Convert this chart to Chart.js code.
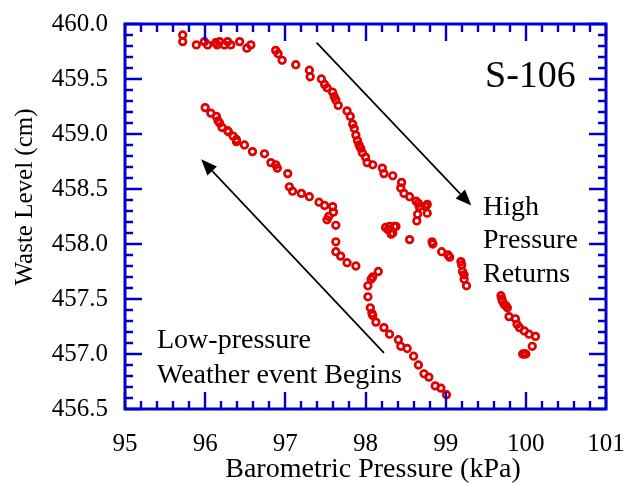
<!DOCTYPE html>
<html>
<head>
<meta charset="utf-8">
<script src="https://cdn.jsdelivr.net/npm/chart.js@4.4.1/dist/chart.umd.min.js"></script>
<style>
html,body{margin:0;padding:0;background:#ffffff;}
#wrap{position:relative;width:624px;height:485px;}
</style>
</head>
<body>
<div id="wrap"><canvas id="c" width="624" height="485"></canvas></div>
<script>
// ---------- DATA ----------
const pressureKPa = [
  95.72,95.72,95.89,95.99,96.03,96.13,96.15,96.18,96.24,96.28,96.32,96.43,96.52,96.57,
  96.88,96.91,96.96,97.13,97.30,97.31,97.45,97.49,97.52,97.59,97.61,97.63,97.66,97.77,97.81,97.84,
  97.86,97.88,97.90,97.92,97.94,97.96,98.00,98.02,98.09,98.21,98.23,98.34,98.45,98.44,98.48,98.55,
  98.63,98.66,98.67,98.75,98.77,98.77,98.65,98.64,
  98.25,98.30,98.36,98.38,98.34,98.32,98.28,
  98.55,98.84,98.83,98.95,99.03,99.05,99.19,99.20,99.21,99.23,99.23,99.26,
  99.69,99.70,99.71,99.73,99.75,99.77,99.79,99.87,99.89,99.92,99.98,100.04,100.12,100.08,99.96,99.98,100.00,
  96.00,96.07,96.14,96.16,96.18,96.21,96.28,96.29,96.35,96.39,96.39,96.49,96.59,96.74,96.82,96.88,
  96.90,97.03,97.05,97.09,97.20,97.30,97.42,97.49,97.59,97.60,97.54,97.52,97.63,97.63,97.63,97.69,
  97.77,97.88,
  98.16,98.09,98.07,98.03,98.03,98.06,98.08,98.09,98.13,98.23,98.30,98.41,98.44,98.52,98.60,98.66,
  98.73,98.79,98.87,98.94,99.01
];
const wasteLevelCm = [
  459.90,459.84,459.81,459.84,459.81,459.83,459.81,459.84,459.81,459.84,459.81,459.84,459.78,459.81,
  459.76,459.73,459.67,459.63,459.58,459.52,459.50,459.45,459.42,459.38,459.34,459.31,459.26,459.21,459.16,459.09,
  459.05,458.99,458.94,458.90,458.87,458.83,458.79,458.74,458.72,458.69,458.64,458.62,458.56,458.51,458.46,458.43,
  458.39,458.37,458.34,458.34,458.36,458.28,458.27,458.21,
  458.15,458.16,458.16,458.16,458.10,458.09,458.13,
  458.04,458.00,458.02,457.93,457.90,457.88,457.84,457.81,457.75,457.72,457.68,457.62,
  457.53,457.50,457.48,457.45,457.44,457.42,457.34,457.32,457.27,457.24,457.21,457.18,457.16,457.07,457.00,457.00,457.00,
  459.24,459.19,459.16,459.12,459.10,459.06,459.03,459.02,458.98,458.95,458.93,458.90,458.84,458.82,458.74,458.72,
  458.69,458.64,458.52,458.48,458.46,458.43,458.38,458.35,458.34,458.29,458.25,458.22,458.17,458.02,457.93,457.89,
  457.83,457.80,
  457.75,457.70,457.68,457.62,457.52,457.42,457.37,457.35,457.29,457.24,457.18,457.13,457.07,457.05,456.98,456.90,
  456.82,456.79,456.71,456.69,456.63
];
const xTickLabels = [95, 96, 97, 98, 99, 100, 101];
const yTickLabels = [456.5, 457.0, 457.5, 458.0, 458.5, 459.0, 459.5, 460.0];
const xAxisTitle = 'Barometric Pressure (kPa)';
const yAxisTitle = 'Waste Level (cm)';
const tankLabel = 'S-106';
const highNote = ['High', 'Pressure', 'Returns'];
const lowNote = ['Low-pressure', 'Weather event Begins'];
// arrows in data coordinates: [fromX, fromY, toX, toY]
const highArrow = [97.39, 459.83, 99.32, 458.35];
const lowArrow = [98.23, 457.01, 95.95, 458.77];

// ---------- STYLE ----------
const BLUE = '#0000cc';
const RED = '#e00000';
const SERIF = '"Liberation Serif", "Times New Roman", serif';

const points = pressureKPa.map((x, i) => ({x: x, y: wasteLevelCm[i]}));

const framePlugin = {
  id: 'framePlugin',
  afterDraw(chart) {
    const ctx = chart.ctx;
    const a = chart.chartArea;
    const xs = chart.scales.x, ys = chart.scales.y;
    ctx.save();
    // ticks (inward, all four sides)
    ctx.strokeStyle = BLUE;
    ctx.lineWidth = 2.4;
    ctx.lineCap = 'butt';
    ctx.beginPath();
    for (let k = 0; k <= 30; k++) {
      const v = xs.min + k * 0.2;
      const px = Math.round(xs.getPixelForValue(v));
      const len = (k % 5 === 0) ? 17 : 8;
      ctx.moveTo(px, a.bottom); ctx.lineTo(px, a.bottom - len);
      ctx.moveTo(px, a.top); ctx.lineTo(px, a.top + len);
    }
    for (let k = 0; k <= 35; k++) {
      const v = ys.min + k * 0.1;
      const py = Math.round(ys.getPixelForValue(v));
      const len = (k % 5 === 0) ? 17 : 8;
      ctx.moveTo(a.left, py); ctx.lineTo(a.left + len, py);
      ctx.moveTo(a.right, py); ctx.lineTo(a.right - len, py);
    }
    ctx.stroke();
    // frame
    ctx.lineWidth = 3;
    ctx.strokeRect(a.left, a.top, a.right - a.left, a.bottom - a.top);

    // arrows
    const drawArrow = (arr) => {
      const x1 = xs.getPixelForValue(arr[0]), y1 = ys.getPixelForValue(arr[1]);
      const x2 = xs.getPixelForValue(arr[2]), y2 = ys.getPixelForValue(arr[3]);
      const ang = Math.atan2(y2 - y1, x2 - x1);
      const hl = 16, hw = 6.5;
      const bx = x2 - hl * Math.cos(ang), by = y2 - hl * Math.sin(ang);
      ctx.strokeStyle = '#000';
      ctx.fillStyle = '#000';
      ctx.lineWidth = 1.7;
      ctx.beginPath(); ctx.moveTo(x1, y1); ctx.lineTo(bx, by); ctx.stroke();
      ctx.beginPath();
      ctx.moveTo(x2, y2);
      ctx.lineTo(bx + hw * Math.sin(ang), by - hw * Math.cos(ang));
      ctx.lineTo(bx - hw * Math.sin(ang), by + hw * Math.cos(ang));
      ctx.closePath(); ctx.fill();
    };
    drawArrow(highArrow);
    drawArrow(lowArrow);

    // annotation texts
    ctx.fillStyle = '#000';
    ctx.textAlign = 'left';
    ctx.textBaseline = 'alphabetic';
    ctx.font = '38px ' + SERIF;
    ctx.fillText(tankLabel, 485, 87);
    ctx.font = '28px ' + SERIF;
    highNote.forEach((t, i) => ctx.fillText(t, 483, 215 + i * 33.4));
    lowNote.forEach((t, i) => ctx.fillText(t, 157, 348.3 + i * 34.4));

    // axis titles
    ctx.textAlign = 'center';
    ctx.font = '28px ' + SERIF;
    ctx.fillText(xAxisTitle, 373, 477);
    ctx.save();
    ctx.translate(32, 197);
    ctx.rotate(-Math.PI / 2);
    ctx.font = '25px ' + SERIF;
    ctx.fillText(yAxisTitle, 0, 0);
    ctx.restore();
    ctx.restore();
  }
};

new Chart(document.getElementById('c'), {
  type: 'scatter',
  data: {
    datasets: [{
      label: 'S-106',
      data: points,
      pointStyle: 'circle',
      pointRadius: 3.3,
      pointHoverRadius: 3.3,
      borderColor: RED,
      backgroundColor: 'rgba(255,255,255,0)',
      borderWidth: 2.7,
      showLine: false
    }]
  },
  options: {
    responsive: false,
    devicePixelRatio: 1,
    animation: false,
    events: [],
    layout: { padding: { top: 24, right: 18, left: 0, bottom: 0 } },
    plugins: { legend: { display: false }, tooltip: { enabled: false }, title: { display: false } },
    scales: {
      x: {
        type: 'linear',
        min: 95, max: 101,
        afterBuildTicks: (s) => { s.ticks = xTickLabels.map(v => ({value: v})); },
        afterFit: (s) => { s.height = 76; s.paddingRight = 0; s.paddingLeft = 0; },
        grid: { display: false, drawTicks: false },
        border: { display: false },
        ticks: {
          padding: 20,
          color: '#000',
          font: { family: SERIF, size: 25 },
          callback: (v) => String(v),
          maxRotation: 0
        }
      },
      y: {
        type: 'linear',
        min: 456.5, max: 460,
        afterBuildTicks: (s) => { s.ticks = yTickLabels.map(v => ({value: v})); },
        afterFit: (s) => { s.width = 125; s.paddingTop = 0; s.paddingBottom = 0; },
        grid: { display: false, drawTicks: false },
        border: { display: false },
        ticks: {
          padding: 17,
          color: '#000',
          font: { family: SERIF, size: 25 },
          callback: (v) => Number(v).toFixed(1)
        }
      }
    }
  },
  plugins: [framePlugin]
});
</script>
</body>
</html>
